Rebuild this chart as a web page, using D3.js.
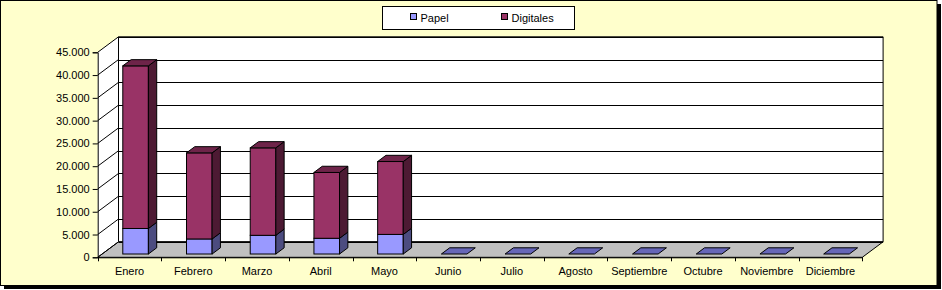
<!DOCTYPE html>
<html><head><meta charset="utf-8">
<script src="https://cdn.jsdelivr.net/npm/d3@7"></script>
<style>html,body{margin:0;padding:0;background:#fff;}svg{display:block;}</style>
</head><body>
<script>
const months = ["Enero","Febrero","Marzo","Abril","Mayo","Junio","Julio","Agosto","Septiembre","Octubre","Noviembre","Diciembre"];
const papel = [5600, 3300, 4100, 3450, 4300, 0, 0, 0, 0, 0, 0, 0];
const digitales = [35700, 18900, 19200, 14450, 16000, 0, 0, 0, 0, 0, 0, 0];
const seriesNames = ["Papel", "Digitales"];
const yTicks = [0, 5000, 10000, 15000, 20000, 25000, 30000, 35000, 40000, 45000];

const W = 942, H = 290;
const svg = d3.select("body").append("svg").attr("width", W).attr("height", H);
const font = "'Liberation Sans', Arial, sans-serif";

// frame
svg.append("rect").attr("x", 4).attr("y", 4).attr("width", 937).attr("height", 285).attr("fill", "#000");
svg.append("rect").attr("x", 0.5).attr("y", 0.5).attr("width", 936.5).attr("height", 285).attr("fill", "#FFFFCC").attr("stroke", "#000");

const X0 = 97.7, X1 = 862.3;
const DX = 20.8, DY = -15.5;
const x = d3.scaleBand().domain(months).range([X0, X1]).paddingInner(0).paddingOuter(0);
const y = d3.scaleLinear().domain([0, 45000]).range([257.3, 52.3]);

const pt = (px, py) => px + "," + py;
const g = svg.append("g");

// left wall
g.append("polygon").attr("points", [pt(X0, y(45000)), pt(X0 + DX, y(45000) + DY), pt(X0 + DX, y(0) + DY), pt(X0, y(0))].join(" "))
  .attr("fill", "#fff");
// back wall
g.append("polygon").attr("points", [pt(X0 + DX, y(45000) + DY), pt(X1 + DX, y(45000) + DY), pt(X1 + DX, y(0) + DY), pt(X0 + DX, y(0) + DY)].join(" "))
  .attr("fill", "#fff").attr("stroke", "#000").attr("stroke-width", 1);
// floor
g.append("polygon").attr("points", [pt(X0, y(0)), pt(X0 + DX, y(0) + DY), pt(X1 + DX, y(0) + DY), pt(X1, y(0))].join(" "))
  .attr("fill", "#C0C0C0").attr("stroke", "#000").attr("stroke-width", 1);

// gridlines
yTicks.forEach(v => {
  const yy = Math.round(y(v) + DY) + 0.5;
  g.append("line").attr("x1", X0 + DX).attr("x2", X1 + DX).attr("y1", yy).attr("y2", yy).attr("stroke", "#000");
  g.append("line").attr("x1", X0).attr("y1", y(v)).attr("x2", X0 + DX).attr("y2", y(v) + DY).attr("stroke", "#000");
});

// value axis
const yAxis = d3.axisLeft(y).tickValues(yTicks).tickSize(5).tickPadding(3)
  .tickFormat(d => d3.format(",")(d).replace(/,/g, "."));
const ya = svg.append("g").attr("transform", `translate(${X0},0)`).call(yAxis);
ya.selectAll("text").attr("font-family", font).attr("font-size", 11).attr("fill", "#000");
ya.selectAll("line,path").attr("stroke", "#000");

// category axis
const xAxis = d3.axisBottom(x).tickSize(0).tickPadding(10);
const xa = svg.append("g").attr("transform", `translate(0,${y(0)})`).call(xAxis);
xa.select("path").attr("stroke", "#000");
xa.selectAll("text").attr("font-family", font).attr("font-size", 11).attr("fill", "#000");
// category boundary ticks
months.concat(["_end"]).forEach((m, i) => {
  const xx = Math.round(i < months.length ? x(m) : X1) + 0.5;
  svg.append("line").attr("x1", xx).attr("x2", xx).attr("y1", y(0)).attr("y2", y(0) + 4).attr("stroke", "#000");
});

// bars
const fFront = 0.29, fBack = 0.69;
const barW = 25.6;
const colors = {
  Papel: {front: "#9999FF", side: "#4C4C80", top: "#6666B8"},
  Digitales: {front: "#993366", side: "#4D1A33", top: "#6E2449"}
};
const bars = svg.append("g");
months.forEach((m, i) => {
  const cx = x(m) + x.bandwidth() / 2;
  const fx = cx - barW / 2 + fFront * DX;
  const fyo = -3.3;
  const ddx = (fBack - fFront) * DX, ddy = (fBack - fFront) * DY;
  const segs = [["Papel", 0, papel[i]], ["Digitales", papel[i], papel[i] + digitales[i]]];
  const total = papel[i] + digitales[i];
  if (total === 0) {
    const yb = y(0) + fyo;
    bars.append("polygon").attr("points", [pt(fx, yb), pt(fx + barW, yb), pt(fx + barW + ddx, yb + ddy), pt(fx + ddx, yb + ddy)].join(" "))
      .attr("fill", colors.Papel.top).attr("stroke", "#000").attr("stroke-width", 1);
    return;
  }
  segs.forEach(([name, a, b]) => {
    if (b <= a) return;
    const ya0 = y(a) + fyo, yb0 = y(b) + fyo;
    const c = colors[name];
    bars.append("rect").attr("x", fx).attr("y", yb0).attr("width", barW).attr("height", ya0 - yb0)
      .attr("fill", c.front).attr("stroke", "#000");
    bars.append("polygon").attr("points", [pt(fx + barW, yb0), pt(fx + barW + ddx, yb0 + ddy), pt(fx + barW + ddx, ya0 + ddy), pt(fx + barW, ya0)].join(" "))
      .attr("fill", c.side).attr("stroke", "#000");
    if (b === total) {
      bars.append("polygon").attr("points", [pt(fx, yb0), pt(fx + barW, yb0), pt(fx + barW + ddx, yb0 + ddy), pt(fx + ddx, yb0 + ddy)].join(" "))
        .attr("fill", c.top).attr("stroke", "#000");
    }
  });
});

// legend
const lg = svg.append("g");
lg.append("rect").attr("x", 382.5).attr("y", 6.5).attr("width", 192).attr("height", 23).attr("fill", "#fff").attr("stroke", "#000");
const legX = [410.5, 501.5];
seriesNames.forEach((s, i) => {
  lg.append("rect").attr("x", legX[i]).attr("y", 13.5).attr("width", 6).attr("height", 6)
    .attr("fill", colors[s].front).attr("stroke", "#000");
  lg.append("text").attr("x", legX[i] + 10).attr("y", 21.5).text(s)
    .attr("font-family", font).attr("font-size", 11).attr("fill", "#000");
});
</script>
</body></html>
